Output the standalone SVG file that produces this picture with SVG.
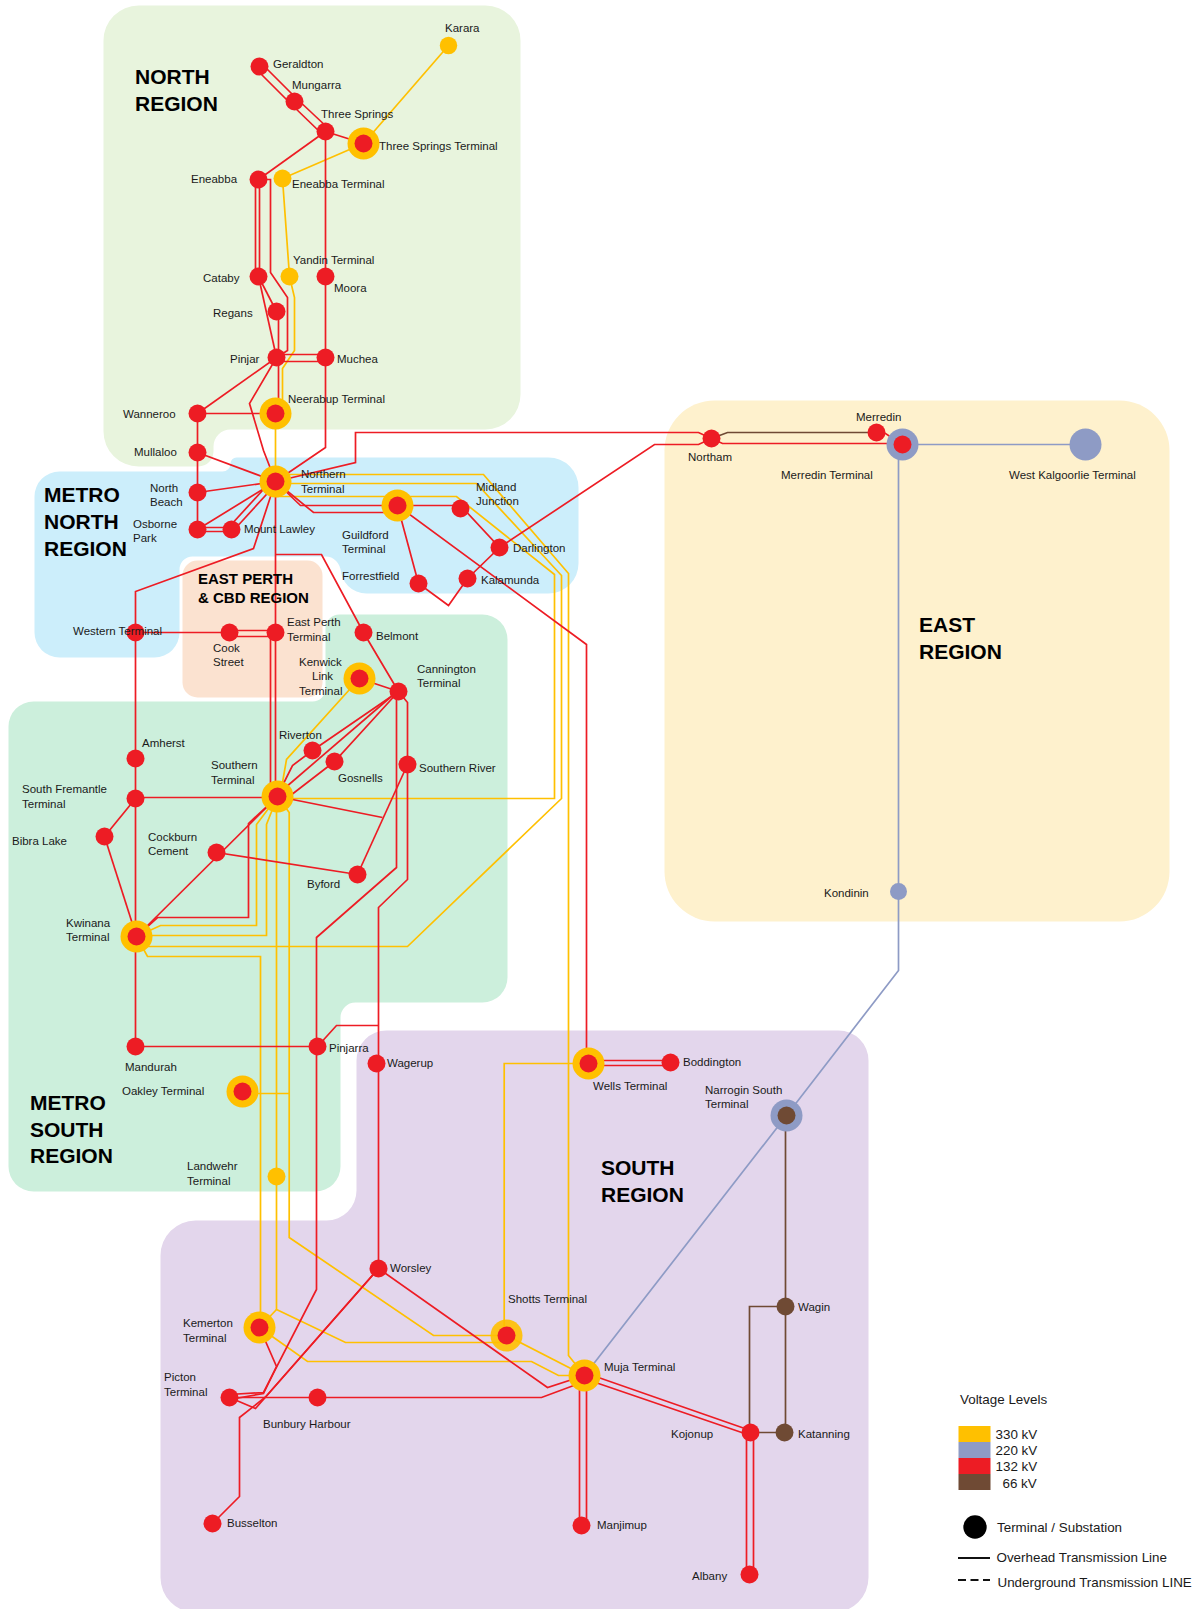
<svg xmlns="http://www.w3.org/2000/svg" width="1196" height="1609" viewBox="0 0 1196 1609">
<style>
.c path{fill:none;stroke-width:1.7;stroke-linejoin:miter}
.y path{stroke:#ffc000}.b path{stroke:#8e9bc5}.r path{stroke:#ed1c24}.w path{stroke:#6f4a34}
.rn{fill:#ed1c24}.yn{fill:#ffc000}.bn{fill:#8e9bc5}.wn{fill:#6f4a34}
text{font-family:"Liberation Sans",Arial,sans-serif;font-size:11.5px;fill:#1a1a1a}
#nodes text{transform:translate(-.5px,-1px)}
.t{font-size:21px;font-weight:bold;fill:#000}
.s{font-size:15px;font-weight:bold;fill:#000}
.l{font-size:13.4px}
</style>
<rect width="1196" height="1609" fill="#fff"/>
<g id="regions" transform="translate(.5,.5)">
<path id="region-north" fill="#e8f4dd" d="M138,5H485a35,35 0 0 1 35,35V394a35,35 0 0 1 -35,35H230a17,17 0 0 0 -17,17V451a15,15 0 0 1 -15,15H138a35,35 0 0 1 -35,-35V40a35,35 0 0 1 35,-35Z"/>
<path id="region-metro-north" fill="#cceefb" d="M59,471H222a8,8 0 0 0 8,-8a6,6 0 0 1 6,-6H548a30,30 0 0 1 30,30V563a30,30 0 0 1 -30,30H366a26,26 0 0 1 -26,-26V571a15,15 0 0 0 -15,-15H192a13,13 0 0 0 -13,13V632a25,25 0 0 1 -25,25H59a25,25 0 0 1 -25,-25V496a25,25 0 0 1 25,-25Z"/>
<path id="region-metro-south" fill="#ccefdc" d="M33,701H312a13,13 0 0 0 13,-13V628a14,14 0 0 1 14,-14H482a25,25 0 0 1 25,25V977a25,25 0 0 1 -25,25H355a15,15 0 0 0 -15,15V1166a25,25 0 0 1 -25,25H33a25,25 0 0 1 -25,-25V726a25,25 0 0 1 25,-25Z"/>
<rect id="region-east-perth" x="182" y="560" width="140" height="137" rx="15" fill="#fbe2d0"/>
<rect id="region-east" x="664" y="400" width="505" height="521" rx="50" fill="#fef1cd"/>
<path id="region-south" fill="#e3d6ec" d="M386,1030H838a30,30 0 0 1 30,30V1577a35,35 0 0 1 -35,35H195a35,35 0 0 1 -35,-35V1255a35,35 0 0 1 35,-35H326a30,30 0 0 0 30,-30V1060a30,30 0 0 1 30,-30Z"/>
</g>
<g id="connectors" class="c" transform="translate(.5,.5)">
<g class="y">
<path d="M448,45L363,143"/>
<path d="M363,143L282,178L289,276L294,297V350L282,368V413"/>
<path d="M275,413V481"/>
<path d="M275,474H483L568,573V1355L584,1375"/>
<path d="M275,483H476L561,575V798L407,946H136"/>
<path d="M275,496H456L554,574V798H277"/>
<path d="M359,678L286,759L282,782"/>
<path d="M277,796L256,824V925H160L136,936"/>
<path d="M277,796L266,824V935H136"/>
<path d="M276,796V1309L345,1342H506"/>
<path d="M277,796L288.700,812V1237L433,1335H506"/>
<path d="M136,936L147,956H260V1327"/>
<path d="M242,1093H288.700"/>
<path d="M276,1309L259,1327"/>
<path d="M259,1327L307,1361H531L558,1375H584"/>
<path d="M506,1335L584,1375"/>
<path d="M588,1063H503.700V1335"/>
</g>
<g class="b">
<path d="M902,444H1085"/>
<path d="M898,444V970L786,1115L584,1375"/>
</g>
<g class="w">
<path d="M785,1115V1432"/>
<path d="M785,1306H749V1432"/>
<path d="M750,1432H784"/>
<path d="M876,432H727L711,438"/>
</g>
<g class="r">
<path d="M256,69L291,104"/><path d="M261,63L296,98"/>
<path d="M291,104L322,134"/><path d="M296,98L328,128"/>
<path d="M325,131L363,143"/>
<path d="M325,131V447L275,481"/>
<path d="M325,131L258,179"/>
<path d="M255,179V276"/><path d="M259,179V276"/>
<path d="M258,179H270V272L287,297V350L276,357"/>
<path d="M258,276L276,311"/>
<path d="M258,276L276,357"/>
<path d="M278,311V413"/>
<path d="M276,354H325"/><path d="M276,361H325"/>
<path d="M276,357L197,413"/>
<path d="M197,413H275"/>
<path d="M276,357L249,403L263,450L275,481"/>
<path d="M197,413V529"/>
<path d="M197,452L275,481"/>
<path d="M197,492L275,481"/>
<path d="M197,529L275,481"/>
<path d="M229,526L272,479"/><path d="M233,530L276,483"/>
<path d="M197,527H231"/><path d="M197,531H231"/>
<path d="M275,481V632"/>
<path d="M270,632V796"/><path d="M275,632V796"/>
<path d="M275,481L253,548L135,591V1046"/>
<path d="M275,554H321L363,632L398,691"/>
<path d="M135,632H229"/>
<path d="M229,630H275"/><path d="M229,636H275"/>
<path d="M104,836L135,798"/>
<path d="M104,836L136,936"/>
<path d="M135,797H277"/>
<path d="M275,481L300,505H397"/>
<path d="M275,481L313,512H397"/>
<path d="M397,505H460L499,547L467,578"/>
<path d="M397,505L418,583L448,605L467,578"/>
<path d="M499,547L654,444H698L711,438"/>
<path d="M275,481L355,462V432H698L711,438"/>
<path d="M711,438L722,443H902"/>
<path d="M876,432L885,433L902,444"/>
<path d="M397,505L586,644V1063"/>
<path d="M588,1060H670"/><path d="M588,1065H670"/>
<path d="M359,678L398,691"/>
<path d="M398,691L312,750L292,765L283,783"/>
<path d="M392,695L285,787"/>
<path d="M398,691L334,761L277,805"/>
<path d="M396,691V867L316,937V1289L263,1392L229,1394"/>
<path d="M398,691L407,702V879L378,907V1268"/>
<path d="M378,1025H336L317,1046"/>
<path d="M259,1327L276,1366L263,1393L229,1399"/>
<path d="M229,1397L255,1408L378,1268"/>
<path d="M378,1268L265,1396.500L239,1417V1496L212,1523"/>
<path d="M229,1397H541L584,1381"/>
<path d="M378,1268L547,1387L584,1375"/>
<path d="M277,796L382,817"/>
<path d="M407,764L357,874"/>
<path d="M216,852L357,874"/>
<path d="M277,796L136,936"/>
<path d="M277,796L248,823V917H157L136,936"/>
<path d="M135,1046H317"/>
<path d="M584,1375L598,1377L750,1430"/>
<path d="M584,1379L598,1383L750,1435"/>
<path d="M579,1375V1525"/><path d="M586,1375V1525"/>
<path d="M746,1432V1574"/><path d="M753,1432V1574"/>
</g>
</g>
<g id="nodes" transform="translate(.5,.5)">
<g id="karara"><circle class="yn" cx="448" cy="45" r="8.700"/><text x="445" y="32">Karara</text></g>
<g id="geraldton"><circle class="rn" cx="259" cy="66" r="9"/><text x="273" y="68">Geraldton</text></g>
<g id="mungarra"><circle class="rn" cx="294" cy="101" r="9"/><text x="292" y="89">Mungarra</text></g>
<g id="three-springs"><circle class="rn" cx="325" cy="131" r="9"/><text x="321" y="118">Three Springs</text></g>
<g id="three-springs-terminal"><circle class="yn" cx="363" cy="143" r="16"/><circle class="rn" cx="363" cy="143" r="9"/><text x="379" y="150">Three Springs Terminal</text></g>
<g id="eneabba"><circle class="rn" cx="258" cy="179" r="9"/><text x="191" y="183">Eneabba</text></g>
<g id="eneabba-terminal"><circle class="yn" cx="282" cy="178" r="9"/><text x="292" y="188">Eneabba Terminal</text></g>
<g id="cataby"><circle class="rn" cx="258" cy="276" r="9"/><text x="203" y="282">Cataby</text></g>
<g id="yandin-terminal"><circle class="yn" cx="289" cy="276" r="9"/><text x="293" y="264">Yandin Terminal</text></g>
<g id="moora"><circle class="rn" cx="325" cy="276" r="9"/><text x="334" y="292">Moora</text></g>
<g id="regans"><circle class="rn" cx="276" cy="311" r="9"/><text x="213" y="317">Regans</text></g>
<g id="pinjar"><circle class="rn" cx="276" cy="357" r="9"/><text x="230" y="363">Pinjar</text></g>
<g id="muchea"><circle class="rn" cx="325" cy="357" r="9"/><text x="337" y="363">Muchea</text></g>
<g id="neerabup-terminal"><circle class="yn" cx="275" cy="413" r="16"/><circle class="rn" cx="275" cy="413" r="9"/><text x="288" y="403">Neerabup Terminal</text></g>
<g id="wanneroo"><circle class="rn" cx="197" cy="413" r="9"/><text x="123" y="418">Wanneroo</text></g>
<g id="mullaloo"><circle class="rn" cx="197" cy="452" r="9"/><text x="134" y="456">Mullaloo</text></g>
<g id="northern-terminal"><circle class="yn" cx="275" cy="481" r="16"/><circle class="rn" cx="275" cy="481" r="9"/><text x="301" y="478">Northern</text><text x="301" y="493">Terminal</text></g>
<g id="north-beach"><circle class="rn" cx="197" cy="492" r="9"/><text x="150" y="492">North</text><text x="150" y="506">Beach</text></g>
<g id="osborne-park"><circle class="rn" cx="197" cy="529" r="9"/><text x="133" y="528">Osborne</text><text x="133" y="542">Park</text></g>
<g id="mount-lawley"><circle class="rn" cx="231" cy="529" r="9"/><text x="244" y="533">Mount Lawley</text></g>
<g id="guildford-terminal"><circle class="yn" cx="397" cy="505" r="16"/><circle class="rn" cx="397" cy="505" r="9"/><text x="342" y="539">Guildford</text><text x="342" y="553">Terminal</text></g>
<g id="midland-junction"><circle class="rn" cx="460" cy="508" r="9"/><text x="476" y="491">Midland</text><text x="476" y="505">Junction</text></g>
<g id="darlington"><circle class="rn" cx="499" cy="547" r="9"/><text x="513" y="552">Darlington</text></g>
<g id="kalamunda"><circle class="rn" cx="467" cy="578" r="9"/><text x="481" y="584">Kalamunda</text></g>
<g id="forrestfield"><circle class="rn" cx="418" cy="583" r="9"/><text x="342" y="580">Forrestfield</text></g>
<g id="western-terminal"><circle class="rn" cx="135" cy="632" r="9"/><text x="73" y="635">Western Terminal</text></g>
<g id="cook-street"><circle class="rn" cx="229" cy="632" r="9"/><text x="213" y="652">Cook</text><text x="213" y="666">Street</text></g>
<g id="east-perth-terminal"><circle class="rn" cx="275" cy="632" r="9"/><text x="287" y="626">East Perth</text><text x="287" y="641">Terminal</text></g>
<g id="belmont"><circle class="rn" cx="363" cy="632" r="9"/><text x="376" y="640">Belmont</text></g>
<g id="kenwick-link-terminal"><circle class="yn" cx="359" cy="678" r="16"/><circle class="rn" cx="359" cy="678" r="9"/><text x="299" y="666">Kenwick</text><text x="312" y="680">Link</text><text x="299" y="695">Terminal</text></g>
<g id="cannington-terminal"><circle class="rn" cx="398" cy="691" r="9"/><text x="417" y="673">Cannington</text><text x="417" y="687">Terminal</text></g>
<g id="amherst"><circle class="rn" cx="135" cy="758" r="9"/><text x="142" y="747">Amherst</text></g>
<g id="south-fremantle-terminal"><circle class="rn" cx="135" cy="798" r="9"/><text x="22" y="793">South Fremantle</text><text x="22" y="808">Terminal</text></g>
<g id="bibra-lake"><circle class="rn" cx="104" cy="836" r="9"/><text x="12" y="845">Bibra Lake</text></g>
<g id="kwinana-terminal"><circle class="yn" cx="136" cy="936" r="16"/><circle class="rn" cx="136" cy="936" r="9"/><text x="66" y="927">Kwinana</text><text x="66" y="941">Terminal</text></g>
<g id="southern-terminal"><circle class="yn" cx="277" cy="796" r="16"/><circle class="rn" cx="277" cy="796" r="9"/><text x="211" y="769">Southern</text><text x="211" y="784">Terminal</text></g>
<g id="riverton"><circle class="rn" cx="312" cy="750" r="9"/><text x="279" y="739">Riverton</text></g>
<g id="gosnells"><circle class="rn" cx="334" cy="761" r="9"/><text x="338" y="782">Gosnells</text></g>
<g id="southern-river"><circle class="rn" cx="407" cy="764" r="9"/><text x="419" y="772">Southern River</text></g>
<g id="cockburn-cement"><circle class="rn" cx="216" cy="852" r="9"/><text x="148" y="841">Cockburn</text><text x="148" y="855">Cement</text></g>
<g id="byford"><circle class="rn" cx="357" cy="874" r="9"/><text x="307" y="888">Byford</text></g>
<g id="mandurah"><circle class="rn" cx="135" cy="1046" r="9"/><text x="125" y="1071">Mandurah</text></g>
<g id="pinjarra"><circle class="rn" cx="317" cy="1046" r="9"/><text x="329" y="1052">Pinjarra</text></g>
<g id="wagerup"><circle class="rn" cx="376" cy="1063" r="9"/><text x="387" y="1067">Wagerup</text></g>
<g id="oakley-terminal"><circle class="yn" cx="242" cy="1091" r="16"/><circle class="rn" cx="242" cy="1091" r="9"/><text x="122" y="1095">Oakley Terminal</text></g>
<g id="landwehr-terminal"><circle class="yn" cx="276" cy="1176" r="9"/><text x="187" y="1170">Landwehr</text><text x="187" y="1185">Terminal</text></g>
<g id="wells-terminal"><circle class="yn" cx="588" cy="1063" r="16"/><circle class="rn" cx="588" cy="1063" r="9"/><text x="593" y="1090">Wells Terminal</text></g>
<g id="boddington"><circle class="rn" cx="670" cy="1062" r="9"/><text x="683" y="1066">Boddington</text></g>
<g id="narrogin-south-terminal"><circle class="bn" cx="786" cy="1115" r="16"/><circle class="wn" cx="786" cy="1115" r="9"/><text x="705" y="1094">Narrogin South</text><text x="705" y="1108">Terminal</text></g>
<g id="worsley"><circle class="rn" cx="378" cy="1268" r="9"/><text x="390" y="1272">Worsley</text></g>
<g id="shotts-terminal"><circle class="yn" cx="506" cy="1335" r="16" fill-opacity=".9"/><circle class="rn" cx="506" cy="1335" r="9"/><text x="508" y="1303">Shotts Terminal</text></g>
<g id="kemerton-terminal"><circle class="yn" cx="259" cy="1327" r="16"/><circle class="rn" cx="259" cy="1327" r="9"/><text x="183" y="1327">Kemerton</text><text x="183" y="1342">Terminal</text></g>
<g id="muja-terminal"><circle class="yn" cx="584" cy="1375" r="16"/><circle class="rn" cx="584" cy="1375" r="9"/><text x="604" y="1371">Muja Terminal</text></g>
<g id="picton-terminal"><circle class="rn" cx="229" cy="1397" r="9"/><text x="164" y="1381">Picton</text><text x="164" y="1396">Terminal</text></g>
<g id="bunbury-harbour"><circle class="rn" cx="317" cy="1397" r="9"/><text x="263" y="1428">Bunbury Harbour</text></g>
<g id="busselton"><circle class="rn" cx="212" cy="1523" r="9"/><text x="227" y="1527">Busselton</text></g>
<g id="manjimup"><circle class="rn" cx="581" cy="1525" r="9"/><text x="597" y="1529">Manjimup</text></g>
<g id="wagin"><circle class="wn" cx="785" cy="1306" r="9"/><text x="798" y="1311">Wagin</text></g>
<g id="kojonup"><circle class="rn" cx="750" cy="1432" r="9"/><text x="671" y="1438">Kojonup</text></g>
<g id="katanning"><circle class="wn" cx="784" cy="1432" r="9"/><text x="798" y="1438">Katanning</text></g>
<g id="albany"><circle class="rn" cx="749" cy="1574" r="9"/><text x="692" y="1580">Albany</text></g>
<g id="northam"><circle class="rn" cx="711" cy="438" r="9"/><text x="688" y="461">Northam</text></g>
<g id="merredin"><circle class="rn" cx="876" cy="432" r="9"/><text x="856" y="421">Merredin</text></g>
<g id="merredin-terminal"><circle class="bn" cx="902" cy="444" r="16"/><circle class="rn" cx="902" cy="444" r="9"/><text x="781" y="479">Merredin Terminal</text></g>
<g id="west-kalgoorlie-terminal"><circle class="bn" cx="1085" cy="444" r="16"/><text x="1009" y="479">West Kalgoorlie Terminal</text></g>
<g id="kondinin"><circle class="bn" cx="898" cy="891" r="8.500"/><text x="824" y="897">Kondinin</text></g>
</g>
<g id="region-labels">
<text class="t" x="135" y="84">NORTH</text><text class="t" x="135" y="111">REGION</text>
<text class="t" x="44" y="502">METRO</text><text class="t" x="44" y="529">NORTH</text><text class="t" x="44" y="556">REGION</text>
<text class="s" x="198" y="584">EAST PERTH</text><text class="s" x="198" y="603">&amp; CBD REGION</text>
<text class="t" x="30" y="1110">METRO</text><text class="t" x="30" y="1137">SOUTH</text><text class="t" x="30" y="1163">REGION</text>
<text class="t" x="601" y="1175">SOUTH</text><text class="t" x="601" y="1202">REGION</text>
<text class="t" x="919" y="632">EAST</text><text class="t" x="919" y="659">REGION</text>
</g>
<g id="legend">
<text class="l" x="960" y="1404">Voltage Levels</text>
<rect x="958.500" y="1426" width="32" height="16" fill="#ffc000"/><text class="l" x="995.500" y="1439">330 kV</text>
<rect x="958.500" y="1442" width="32" height="16" fill="#8e9bc5"/><text class="l" x="995.500" y="1455">220 kV</text>
<rect x="958.500" y="1458" width="32" height="16" fill="#ed1c24"/><text class="l" x="995.500" y="1471">132 kV</text>
<rect x="958.500" y="1474" width="32" height="16" fill="#6f4a34"/><text class="l" x="1002.500" y="1488">66 kV</text>
<circle cx="975" cy="1527" r="11.700" fill="#000"/><text class="l" x="997" y="1532">Terminal / Substation</text>
<path d="M958,1558H990" stroke="#111" stroke-width="2" fill="none"/><text class="l" x="996.500" y="1562">Overhead Transmission Line</text>
<path d="M958,1580H990" stroke="#111" stroke-width="2" stroke-dasharray="8,4.500" fill="none"/><text class="l" x="997.500" y="1587">Underground Transmission LINE</text>
</g>
</svg>
